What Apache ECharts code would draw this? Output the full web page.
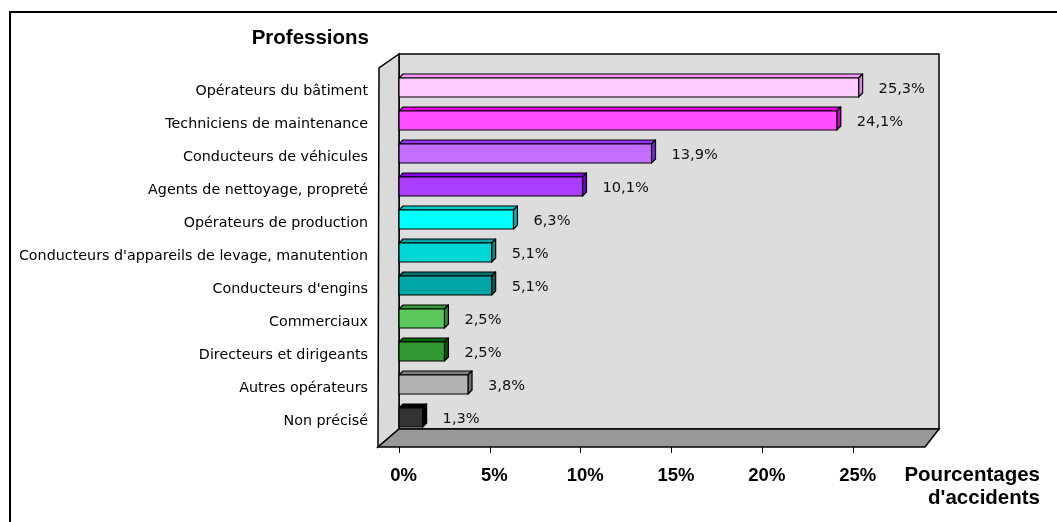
<!DOCTYPE html>
<html>
<head>
<meta charset="utf-8">
<script src="https://cdn.jsdelivr.net/npm/echarts@6/dist/echarts.min.js"></script>
<style>
  html, body { margin: 0; padding: 0; background: #fff; }
  #chart { width: 1057px; height: 522px; }
</style>
</head>
<body>
<div id="chart"></div>
<script>
// Professions concerned by accidents (share of accidents, %)
const categories = [
  "Opérateurs du bâtiment",
  "Techniciens de maintenance",
  "Conducteurs de véhicules",
  "Agents de nettoyage, propreté",
  "Opérateurs de production",
  "Conducteurs d'appareils de levage, manutention",
  "Conducteurs d'engins",
  "Commerciaux",
  "Directeurs et dirigeants",
  "Autres opérateurs",
  "Non précisé"
];
const values = [25.3, 24.1, 13.9, 10.1, 6.3, 5.1, 5.1, 2.5, 2.5, 3.8, 1.3];
const tickValues = [0, 5, 10, 15, 20, 25];

// bar colours: front face, top face, side face
const frontColors = ["#FFCCFF", "#FF4DFF", "#C46EFF", "#AA3DFF", "#00FFFF", "#00D6D6", "#00A6A6", "#5CC85C", "#339933", "#B2B2B2", "#333333"];
const topColors   = ["#FF99FF", "#E600E6", "#9933FF", "#8800EE", "#00CCCC", "#00A3A3", "#007373", "#339933", "#006600", "#808080", "#000000"];
const sideColors  = ["#E680E6", "#CC00CC", "#8026E0", "#7000CC", "#00B3B3", "#008C8C", "#006060", "#2E8A2E", "#005500", "#6E6E6E", "#000000"];

const fmt = v => v.toFixed(1).replace('.', ',') + '%';

const chart = echarts.init(document.getElementById('chart'), null, { renderer: 'canvas' });

const FACE_H = 19;   // front face height of a bar
const DEPTH = 4;     // bar extrusion

const option = {
  animation: false,
  backgroundColor: '#ffffff',
  grid: { left: 399, right: 113, top: 71, bottom: 88 },
  xAxis: {
    type: 'value',
    min: 0, max: 30, interval: 5,
    offset: 13,
    splitLine: { show: false },
    axisLine: { show: false },
    axisTick: { show: true, length: 6, customValues: tickValues, lineStyle: { color: '#000', width: 1 } },
    axisLabel: {
      customValues: tickValues,
      formatter: v => v + '%',
      margin: 19,
      padding: [0, 0, 0, 9],
      fontFamily: 'Liberation Sans', fontWeight: 'bold', fontSize: 18.5, color: '#000'
    }
  },
  yAxis: {
    type: 'category',
    data: categories,
    inverse: true,
    axisLine: { show: false },
    axisTick: { show: false },
    splitLine: { show: false },
    axisLabel: {
      margin: 31,
      formatter: v => '{c|' + v + '}',
      rich: { c: { padding: [7, 0, 0, 0], fontFamily: 'DejaVu Sans', fontSize: 14.3, color: '#000' } }
    }
  },
  graphic: [
    // outer frame
    { type: 'rect', z: 0, silent: true, shape: { x: 10, y: 12, width: 1100, height: 600 },
      style: { fill: 'none', stroke: '#000', lineWidth: 2 } },
    // back wall
    { type: 'rect', z: 0, silent: true, shape: { x: 399, y: 54, width: 540, height: 375 },
      style: { fill: '#DDDDDD', stroke: '#000', lineWidth: 1.5 } },
    // left wall
    { type: 'polygon', z: 0, silent: true, shape: { points: [[399, 54], [379, 68], [378, 447], [399, 429]] },
      style: { fill: '#DADADA', stroke: '#000', lineWidth: 1.5 } },
    // floor
    { type: 'polygon', z: 0, silent: true, shape: { points: [[399, 429], [939, 429], [925, 447], [378, 447]] },
      style: { fill: '#999999', stroke: '#000', lineWidth: 1.5 } },
    // titles
    { type: 'text', z: 10, silent: true, x: 369, y: 38,
      style: { text: 'Professions', align: 'right', verticalAlign: 'middle',
               font: 'bold 20.5px "Liberation Sans"', fill: '#000' } },
    { type: 'text', z: 10, silent: true, x: 1040, y: 487,
      style: { text: "Pourcentages\nd'accidents", align: 'right', verticalAlign: 'middle',
               font: 'bold 20.5px "Liberation Sans"', lineHeight: 23, fill: '#000' } }
  ],
  series: [{
    type: 'custom',
    z: 5,
    encode: { x: 0, y: 1 },
    data: values.map((v, i) => [v, i]),
    renderItem: function (params, api) {
      const v = api.value(0);
      const idx = api.value(1);
      const start = api.coord([0, idx]);
      const end = api.coord([v, idx]);
      const x0 = start[0], x1 = end[0];
      const yTop = start[1] - FACE_H / 2, yBot = start[1] + FACE_H / 2;
      const edge = { stroke: '#000', lineWidth: 1.2, lineJoin: 'round' };
      return {
        type: 'group',
        children: [
          { type: 'polygon',
            shape: { points: [[x0, yTop], [x0 + DEPTH, yTop - DEPTH], [x1 + DEPTH, yTop - DEPTH], [x1, yTop]] },
            style: Object.assign({ fill: topColors[idx] }, edge) },
          { type: 'polygon',
            shape: { points: [[x1, yTop], [x1 + DEPTH, yTop - DEPTH], [x1 + DEPTH, yBot - DEPTH], [x1, yBot]] },
            style: Object.assign({ fill: sideColors[idx] }, edge) },
          { type: 'rect',
            shape: { x: x0, y: yTop, width: x1 - x0, height: FACE_H },
            style: Object.assign({ fill: frontColors[idx] }, edge) },
          { type: 'text',
            x: x1 + 20, y: start[1] + 2,
            style: { text: fmt(v), align: 'left', verticalAlign: 'middle',
                     font: '14.6px "DejaVu Sans"', fill: '#111' } }
        ]
      };
    }
  }]
};

chart.setOption(option);
</script>
</body>
</html>
